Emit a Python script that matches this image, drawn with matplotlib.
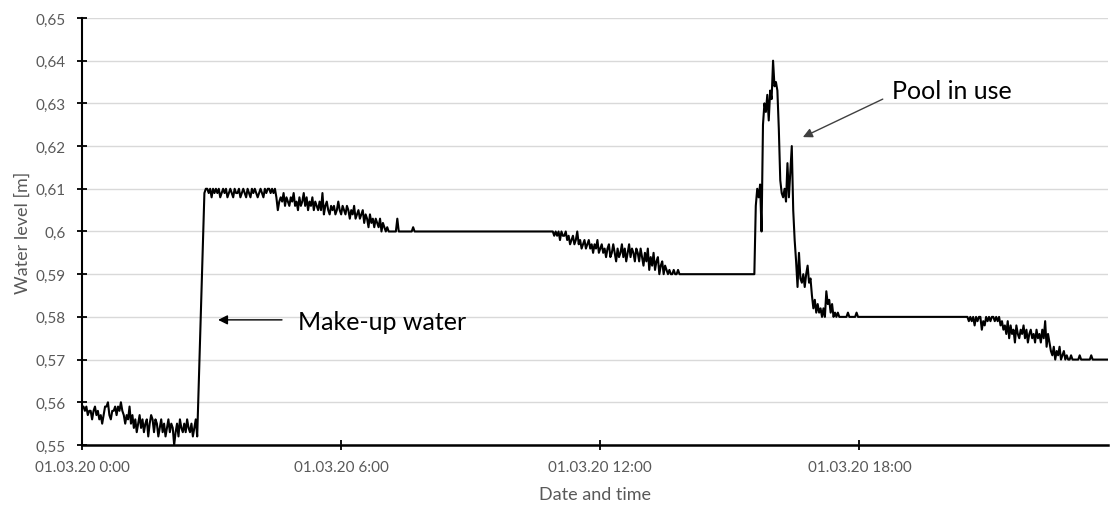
import numpy as np
import matplotlib.pyplot as plt

plt.rcParams['font.family'] = ['Lato', 'DejaVu Sans']

# water level logged every 2 minutes, stored in mm; flat stretches are
# simply bridged by the line between consecutive segments
step_min = 2

night_start = 0
night_mm = [559, 559, 558, 559, 557, 558, 558, 556, 558, 559, 557,
            558, 556, 557, 555, 557, 559, 559, 560, 557, 556,
            558, 558, 559, 557, 559, 558, 560, 558, 557, 555,
            557, 556, 559, 555, 557, 554, 556, 553, 555, 557,
            554, 556, 553, 555, 556, 552, 555, 557, 556, 553,
            556, 555, 552, 554, 556, 553, 555, 552, 554, 556,
            553, 555, 554, 550, 553, 555, 552, 556, 554, 553,
            555, 553, 556, 554, 553, 555, 552, 554, 556, 552]

refill_start = 170
refill_mm = [609, 610, 610, 609, 610, 608, 610, 609, 610, 609,
             610, 608, 609, 610, 609, 610, 608, 609, 610, 609,
             608, 610, 609, 609, 610, 608, 609, 610, 609, 608,
             610, 609, 608, 610, 609, 610, 609, 608, 609, 610,
             609, 608, 610, 609, 610, 610, 609, 610, 609, 610,
             608, 605, 607, 608, 607, 609, 606, 608, 607, 606,
             608, 607, 609, 606, 607, 605, 608, 606, 607, 609,
             606, 608, 605, 607, 606, 608, 605, 607, 606, 605,
             607, 605, 609, 604, 606, 607, 605, 604, 606, 605,
             606, 604, 605, 607, 605, 604, 606, 605, 604, 606,
             605, 603, 605, 604, 606, 603, 604, 605, 603, 604,
             605, 602, 604, 603, 601, 604, 602, 603, 601, 603,
             602, 601, 603, 600, 602, 601, 600, 601, 600, 600,
             600, 600, 600, 600, 603, 600, 600, 600, 600, 600,
             600, 600, 600, 600, 600, 601, 600]

noon_start = 652
noon_mm = [600, 600, 599, 600, 599, 600, 598, 600, 599, 599,
           600, 598, 599, 597, 598, 599, 597, 598, 600, 597,
           598, 596, 597, 598, 596, 597, 598, 596, 597, 595,
           597, 596, 598, 595, 596, 597, 595, 596, 594, 596,
           597, 594, 595, 597, 595, 593, 596, 594, 595, 597,
           594, 596, 593, 595, 597, 594, 596, 595, 593, 596,
           595, 593, 596, 594, 592, 595, 593, 596, 591, 594,
           592, 595, 591, 593, 594, 590, 592, 593, 590, 592,
           591, 590, 591, 590, 590, 591, 590, 590, 591, 590,
           590]

pool_start = 934
pool_mm = [590, 606, 610, 608, 611, 600, 625, 630, 628, 632,
           626, 633, 631, 640, 634, 635, 633, 624, 612, 609,
           608, 610, 607, 616, 608, 614, 620, 605, 598, 593,
           587, 595, 589, 588, 590, 587, 590, 592, 588, 589,
           585, 582, 584, 581, 583, 581, 582, 580, 582, 580,
           586, 583, 584, 581, 583, 580, 581, 580, 581, 580,
           580, 580, 580, 580, 580, 581, 580, 580, 580, 580,
           580, 581, 580, 580]

evening_start = 1228
evening_mm = [580, 580, 579, 580, 579, 580, 578, 580, 579, 580,
              580, 577, 579, 578, 580, 579, 580, 579, 580, 580,
              579, 580, 579, 580, 578, 579, 577, 578, 576, 579,
              575, 578, 576, 577, 574, 578, 576, 575, 577, 576,
              578, 575, 577, 574, 576, 577, 575, 576, 574, 577,
              575, 576, 574, 577, 575, 579, 573, 576, 574, 572,
              571, 573, 570, 572, 571, 573, 570, 571, 572, 570,
              571, 570, 570, 571, 570, 570, 570, 570, 570, 571,
              570, 570, 570, 570, 570, 570, 570, 571, 570]

end_min = 1425
end_mm = 570

segments = [(night_start, night_mm), (refill_start, refill_mm),
            (noon_start, noon_mm), (pool_start, pool_mm),
            (evening_start, evening_mm)]

t = []
level = []
for start, vals in segments:
    t.extend(start + step_min * np.arange(len(vals)))
    level.extend(vals)
t.append(end_min)
level.append(end_mm)

hours = np.array(t) / 60.0
level = np.array(level) / 1000.0

tick_hours = [0, 6, 12, 18]
tick_labels = ['01.03.20 0:00', '01.03.20 6:00', '01.03.20 12:00', '01.03.20 18:00']
y_ticks = [0.55, 0.56, 0.57, 0.58, 0.59, 0.60, 0.61, 0.62, 0.63, 0.64, 0.65]
y_labels = ['0,55', '0,56', '0,57', '0,58', '0,59', '0,6', '0,61', '0,62', '0,63', '0,64', '0,65']

grey = '#595959'

fig = plt.figure(figsize=(11.1, 5.06), dpi=100)
ax = fig.add_axes([0.0739, 0.1186, 0.9241, 0.8439])

ax.plot(hours, level, color='black', linewidth=1.5, zorder=3)

ax.set_xlim(0, end_min / 60.0)
ax.set_ylim(0.55, 0.65)
ax.set_xticks(tick_hours)
ax.set_xticklabels(tick_labels)
ax.set_yticks(y_ticks)
ax.set_yticklabels(y_labels)

ax.grid(axis='y', color='#d9d9d9', linewidth=1)
ax.set_axisbelow(True)
for side in ['top', 'right']:
    ax.spines[side].set_visible(False)
ax.spines['left'].set_linewidth(1.5)
ax.spines['bottom'].set_linewidth(1.8)
ax.tick_params(axis='both', direction='inout', length=7, width=1.3,
               labelsize=11, labelcolor=grey, color='black')
ax.tick_params(axis='x', pad=7)
ax.tick_params(axis='y', pad=8)

ax.set_xlabel('Date and time', fontsize=13, color=grey, labelpad=9)
ax.set_ylabel('Water level [m]', fontsize=13, color=grey, labelpad=4)

# callouts: arrows and labels placed separately
arrow = dict(arrowstyle='-|>', color='black', lw=1, mutation_scale=14,
             shrinkA=0, shrinkB=0)
ax.annotate('', xy=(3.15, 0.5793), xytext=(4.63, 0.5793), arrowprops=arrow)
ax.text(5.0, 0.5790, 'Make-up water', fontsize=18, va='center', ha='left')

arrow_pool = dict(arrow, color='#404040')
ax.annotate('', xy=(16.69, 0.6221), xytext=(18.54, 0.6310), arrowprops=arrow_pool)
ax.text(18.75, 0.6329, 'Pool in use', fontsize=18, va='center', ha='left')

fig.savefig('out.png', dpi=100)
